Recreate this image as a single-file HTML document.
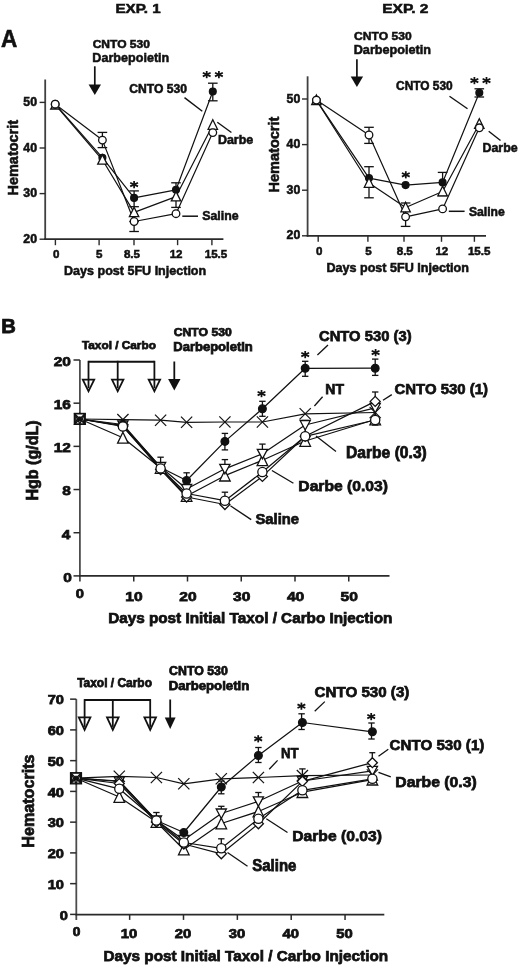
<!DOCTYPE html>
<html><head><meta charset="utf-8"><title>Figure</title>
<style>
html,body{margin:0;padding:0;background:#fff;}
body{width:520px;height:968px;overflow:hidden;font-family:"Liberation Sans",sans-serif;}
svg{display:block;font-weight:bold;filter:grayscale(1);}
</style></head><body>
<svg width="520" height="968" viewBox="0 0 520 968" font-family="Liberation Sans, sans-serif" font-weight="bold" fill="#111">
<rect width="520" height="968" fill="#fff"/>
<text x="115.5" y="13.12" font-size="13.37" textLength="45.23" lengthAdjust="spacingAndGlyphs" stroke="#111" stroke-width="0.55">EXP. 1</text>
<text x="1.11" y="47.02" font-size="23.4" textLength="16.31" lengthAdjust="spacingAndGlyphs" stroke="#111" stroke-width="0.55">A</text>
<text x="92.68" y="47.62" font-size="11.32" textLength="57.23" lengthAdjust="spacingAndGlyphs" stroke="#111" stroke-width="0.55">CNTO 530</text>
<text x="92.33" y="62.33" font-size="13.25" textLength="76.97" lengthAdjust="spacingAndGlyphs" stroke="#111" stroke-width="0.55">Darbepoietin</text>
<line x1="94.8" y1="66.3" x2="94.8" y2="85.5" stroke="#111" stroke-width="1.7"/>
<polygon points="88.6,84.5 101,84.5 94.8,95" fill="#111"/>
<line x1="45.2" y1="79.5" x2="45.2" y2="239.9" stroke="#404040" stroke-width="1.8"/>
<line x1="44.3" y1="239.2" x2="223.4" y2="239.2" stroke="#2a2a2a" stroke-width="1.7"/>
<line x1="39.6" y1="239.2" x2="45.2" y2="239.2" stroke="#2a2a2a" stroke-width="1.4"/>
<text x="23.36" y="242.82" font-size="12.29" textLength="13.67" lengthAdjust="spacingAndGlyphs" stroke="#111" stroke-width="0.55">20</text>
<line x1="39.6" y1="193.6" x2="45.2" y2="193.6" stroke="#2a2a2a" stroke-width="1.4"/>
<text x="23.36" y="197.22" font-size="12.29" textLength="13.67" lengthAdjust="spacingAndGlyphs" stroke="#111" stroke-width="0.55">30</text>
<line x1="39.6" y1="148" x2="45.2" y2="148" stroke="#2a2a2a" stroke-width="1.4"/>
<text x="23.36" y="151.62" font-size="12.29" textLength="13.67" lengthAdjust="spacingAndGlyphs" stroke="#111" stroke-width="0.55">40</text>
<line x1="39.6" y1="102.4" x2="45.2" y2="102.4" stroke="#2a2a2a" stroke-width="1.4"/>
<text x="23.36" y="106.03" font-size="12.29" textLength="13.67" lengthAdjust="spacingAndGlyphs" stroke="#111" stroke-width="0.55">50</text>
<line x1="55.4" y1="239.2" x2="55.4" y2="245.2" stroke="#2a2a2a" stroke-width="1.4"/>
<text x="53.09" y="258.32" font-size="11.57" textLength="6.44" lengthAdjust="spacingAndGlyphs" stroke="#111" stroke-width="0.55">0</text>
<line x1="99.1" y1="239.2" x2="99.1" y2="245.2" stroke="#2a2a2a" stroke-width="1.4"/>
<text x="95.97" y="258.32" font-size="11.57" textLength="6.44" lengthAdjust="spacingAndGlyphs" stroke="#111" stroke-width="0.55">5</text>
<line x1="134" y1="239.2" x2="134" y2="245.2" stroke="#2a2a2a" stroke-width="1.4"/>
<text x="123.93" y="258.32" font-size="11.57" textLength="16.09" lengthAdjust="spacingAndGlyphs" stroke="#111" stroke-width="0.55">8.5</text>
<line x1="177.6" y1="239.2" x2="177.6" y2="245.2" stroke="#2a2a2a" stroke-width="1.4"/>
<text x="169.63" y="258.32" font-size="11.57" textLength="12.87" lengthAdjust="spacingAndGlyphs" stroke="#111" stroke-width="0.55">12</text>
<line x1="211.9" y1="239.2" x2="211.9" y2="245.2" stroke="#2a2a2a" stroke-width="1.4"/>
<text x="204.74" y="258.32" font-size="11.57" textLength="22.52" lengthAdjust="spacingAndGlyphs" stroke="#111" stroke-width="0.55">15.5</text>
<text x="64.04" y="275.33" font-size="13" textLength="142.17" lengthAdjust="spacingAndGlyphs" stroke="#111" stroke-width="0.55">Days post 5FU Injection</text>
<text transform="translate(17.53 194.9) rotate(-90)" x="-0.69" y="0" font-size="14.21" textLength="75.7" lengthAdjust="spacingAndGlyphs" stroke="#111" stroke-width="0.55">Hematocrit</text>
<polyline points="55.2,104.2 102.4,140.1 134.1,221.5 176,213.7 212.8,132.6" fill="none" stroke="#111" stroke-width="1.2" stroke-linejoin="round"/>
<polyline points="55.2,104.7 102.4,159.8 134.1,212.4 176,196.6 212.8,125" fill="none" stroke="#111" stroke-width="1.2" stroke-linejoin="round"/>
<polyline points="55.2,104.2 102.4,157.7 134.1,197.9 176,189.8 212.8,91.5" fill="none" stroke="#111" stroke-width="1.2" stroke-linejoin="round"/>
<line x1="102.4" y1="132.4" x2="102.4" y2="147.6" stroke="#111" stroke-width="1.3"/>
<line x1="97.6" y1="132.4" x2="107.2" y2="132.4" stroke="#111" stroke-width="1.3"/>
<line x1="97.6" y1="147.6" x2="107.2" y2="147.6" stroke="#111" stroke-width="1.3"/>
<line x1="134.1" y1="190.9" x2="134.1" y2="206.7" stroke="#111" stroke-width="1.3"/>
<line x1="129.3" y1="190.9" x2="138.9" y2="190.9" stroke="#111" stroke-width="1.3"/>
<line x1="129.3" y1="206.7" x2="138.9" y2="206.7" stroke="#111" stroke-width="1.3"/>
<line x1="134.1" y1="221.5" x2="134.1" y2="231.5" stroke="#111" stroke-width="1.3"/>
<line x1="129.3" y1="221.5" x2="138.9" y2="221.5" stroke="#111" stroke-width="1.3"/>
<line x1="129.3" y1="231.5" x2="138.9" y2="231.5" stroke="#111" stroke-width="1.3"/>
<line x1="176" y1="182.8" x2="176" y2="207.4" stroke="#111" stroke-width="1.3"/>
<line x1="171.2" y1="182.8" x2="180.8" y2="182.8" stroke="#111" stroke-width="1.3"/>
<line x1="171.2" y1="207.4" x2="180.8" y2="207.4" stroke="#111" stroke-width="1.3"/>
<line x1="212.8" y1="83.2" x2="212.8" y2="100.8" stroke="#111" stroke-width="1.3"/>
<line x1="208" y1="83.2" x2="217.6" y2="83.2" stroke="#111" stroke-width="1.3"/>
<line x1="208" y1="100.8" x2="217.6" y2="100.8" stroke="#111" stroke-width="1.3"/>
<circle cx="102.4" cy="157.7" r="3.4" fill="#111" stroke="#111" stroke-width="1.3"/>
<circle cx="134.1" cy="197.9" r="3.4" fill="#111" stroke="#111" stroke-width="1.3"/>
<circle cx="176" cy="189.8" r="3.4" fill="#111" stroke="#111" stroke-width="1.3"/>
<circle cx="212.8" cy="91.5" r="3.4" fill="#111" stroke="#111" stroke-width="1.3"/>
<polygon points="55.2,101.5 59.7,109 50.7,109" fill="#fff" stroke="#111" stroke-width="1.3" stroke-linejoin="miter"/>
<polygon points="102.4,154.6 107.1,164.1 97.7,164.1" fill="#fff" stroke="#111" stroke-width="1.3" stroke-linejoin="miter"/>
<polygon points="134.1,207.2 138.8,216.7 129.4,216.7" fill="#fff" stroke="#111" stroke-width="1.3" stroke-linejoin="miter"/>
<polygon points="176,191.4 180.7,200.9 171.3,200.9" fill="#fff" stroke="#111" stroke-width="1.3" stroke-linejoin="miter"/>
<polygon points="212.8,119.8 217.5,129.3 208.1,129.3" fill="#fff" stroke="#111" stroke-width="1.3" stroke-linejoin="miter"/>
<circle cx="55.2" cy="104.2" r="3.8" fill="#fff" stroke="#111" stroke-width="1.3"/>
<circle cx="102.4" cy="140.1" r="3.8" fill="#fff" stroke="#111" stroke-width="1.3"/>
<circle cx="134.1" cy="221.5" r="3.8" fill="#fff" stroke="#111" stroke-width="1.3"/>
<circle cx="176" cy="213.7" r="3.8" fill="#fff" stroke="#111" stroke-width="1.3"/>
<circle cx="212.8" cy="132.6" r="3.8" fill="#fff" stroke="#111" stroke-width="1.3"/>
<circle cx="55.2" cy="104.2" r="3.8" fill="#fff" stroke="#111" stroke-width="1.3"/>
<line x1="134.1" y1="181" x2="134.1" y2="188.2" stroke="#111" stroke-width="1.75"/>
<line x1="130.2" y1="182.8" x2="138" y2="186.4" stroke="#111" stroke-width="1.75"/>
<line x1="138" y1="182.8" x2="130.2" y2="186.4" stroke="#111" stroke-width="1.75"/>
<line x1="206.7" y1="71" x2="206.7" y2="78.2" stroke="#111" stroke-width="1.75"/>
<line x1="202.8" y1="72.8" x2="210.6" y2="76.4" stroke="#111" stroke-width="1.75"/>
<line x1="210.6" y1="72.8" x2="202.8" y2="76.4" stroke="#111" stroke-width="1.75"/>
<line x1="218.9" y1="71" x2="218.9" y2="78.2" stroke="#111" stroke-width="1.75"/>
<line x1="215" y1="72.8" x2="222.8" y2="76.4" stroke="#111" stroke-width="1.75"/>
<line x1="222.8" y1="72.8" x2="215" y2="76.4" stroke="#111" stroke-width="1.75"/>
<text x="129.38" y="92.52" font-size="12.03" textLength="57.64" lengthAdjust="spacingAndGlyphs" stroke="#111" stroke-width="0.55">CNTO 530</text>
<line x1="184.5" y1="97.6" x2="202.3" y2="111.2" stroke="#111" stroke-width="1.4"/>
<line x1="217.3" y1="122.3" x2="231.4" y2="132.5" stroke="#111" stroke-width="1.4"/>
<text x="217.94" y="144.32" font-size="11.87" textLength="35.31" lengthAdjust="spacingAndGlyphs" stroke="#111" stroke-width="0.55">Darbe</text>
<line x1="182.3" y1="216.2" x2="198" y2="216.2" stroke="#111" stroke-width="1.5"/>
<text x="202.22" y="220.22" font-size="12.56" textLength="36.43" lengthAdjust="spacingAndGlyphs" stroke="#111" stroke-width="0.55">Saline</text>
<text x="382.18" y="13.22" font-size="13.37" textLength="46.34" lengthAdjust="spacingAndGlyphs" stroke="#111" stroke-width="0.55">EXP. 2</text>
<text x="354.08" y="39.93" font-size="11.75" textLength="57.54" lengthAdjust="spacingAndGlyphs" stroke="#111" stroke-width="0.55">CNTO 530</text>
<text x="353.73" y="54.33" font-size="12.56" textLength="77.28" lengthAdjust="spacingAndGlyphs" stroke="#111" stroke-width="0.55">Darbepoietin</text>
<line x1="356.9" y1="59.3" x2="356.9" y2="77.5" stroke="#111" stroke-width="1.7"/>
<polygon points="350.7,76.5 363.1,76.5 356.9,87" fill="#111"/>
<line x1="307.6" y1="76.3" x2="307.6" y2="236.5" stroke="#404040" stroke-width="1.8"/>
<line x1="306.7" y1="235.8" x2="486" y2="235.8" stroke="#2a2a2a" stroke-width="1.7"/>
<line x1="302" y1="235.8" x2="307.6" y2="235.8" stroke="#2a2a2a" stroke-width="1.4"/>
<text x="286.56" y="239.43" font-size="12.29" textLength="13.67" lengthAdjust="spacingAndGlyphs" stroke="#111" stroke-width="0.55">20</text>
<line x1="302" y1="190.2" x2="307.6" y2="190.2" stroke="#2a2a2a" stroke-width="1.4"/>
<text x="286.56" y="193.83" font-size="12.29" textLength="13.67" lengthAdjust="spacingAndGlyphs" stroke="#111" stroke-width="0.55">30</text>
<line x1="302" y1="144.6" x2="307.6" y2="144.6" stroke="#2a2a2a" stroke-width="1.4"/>
<text x="286.56" y="148.23" font-size="12.29" textLength="13.67" lengthAdjust="spacingAndGlyphs" stroke="#111" stroke-width="0.55">40</text>
<line x1="302" y1="99" x2="307.6" y2="99" stroke="#2a2a2a" stroke-width="1.4"/>
<text x="286.56" y="102.63" font-size="12.29" textLength="13.67" lengthAdjust="spacingAndGlyphs" stroke="#111" stroke-width="0.55">50</text>
<line x1="318.2" y1="235.8" x2="318.2" y2="241.8" stroke="#2a2a2a" stroke-width="1.4"/>
<text x="315.89" y="254.93" font-size="11.57" textLength="6.44" lengthAdjust="spacingAndGlyphs" stroke="#111" stroke-width="0.55">0</text>
<line x1="367.9" y1="235.8" x2="367.9" y2="241.8" stroke="#2a2a2a" stroke-width="1.4"/>
<text x="365.17" y="254.93" font-size="11.57" textLength="6.44" lengthAdjust="spacingAndGlyphs" stroke="#111" stroke-width="0.55">5</text>
<line x1="404" y1="235.8" x2="404" y2="241.8" stroke="#2a2a2a" stroke-width="1.4"/>
<text x="396.73" y="254.93" font-size="11.57" textLength="16.09" lengthAdjust="spacingAndGlyphs" stroke="#111" stroke-width="0.55">8.5</text>
<line x1="441.5" y1="235.8" x2="441.5" y2="241.8" stroke="#2a2a2a" stroke-width="1.4"/>
<text x="435.43" y="254.93" font-size="11.57" textLength="12.87" lengthAdjust="spacingAndGlyphs" stroke="#111" stroke-width="0.55">12</text>
<line x1="474.4" y1="235.8" x2="474.4" y2="241.8" stroke="#2a2a2a" stroke-width="1.4"/>
<text x="467.94" y="254.93" font-size="11.57" textLength="22.52" lengthAdjust="spacingAndGlyphs" stroke="#111" stroke-width="0.55">15.5</text>
<text x="326.43" y="271.73" font-size="12.14" textLength="142.57" lengthAdjust="spacingAndGlyphs" stroke="#111" stroke-width="0.55">Days post 5FU Injection</text>
<text transform="translate(278.73 191.9) rotate(-90)" x="-0.7" y="0" font-size="13.94" textLength="76" lengthAdjust="spacingAndGlyphs" stroke="#111" stroke-width="0.55">Hematocrit</text>
<polyline points="316.4,100.1 369,135 405.6,216.8 442.6,208.9 479.3,127.8" fill="none" stroke="#111" stroke-width="1.2" stroke-linejoin="round"/>
<polyline points="316.4,100.2 369,183 405.6,207.5 442.6,191.5 479.3,124" fill="none" stroke="#111" stroke-width="1.2" stroke-linejoin="round"/>
<polyline points="316.4,100.1 369,178.1 405.6,185.1 442.6,182.4 479.3,92.8" fill="none" stroke="#111" stroke-width="1.2" stroke-linejoin="round"/>
<line x1="369" y1="127.3" x2="369" y2="143.4" stroke="#111" stroke-width="1.3"/>
<line x1="364.2" y1="127.3" x2="373.8" y2="127.3" stroke="#111" stroke-width="1.3"/>
<line x1="364.2" y1="143.4" x2="373.8" y2="143.4" stroke="#111" stroke-width="1.3"/>
<line x1="369" y1="166.7" x2="369" y2="197.8" stroke="#111" stroke-width="1.3"/>
<line x1="364.2" y1="166.7" x2="373.8" y2="166.7" stroke="#111" stroke-width="1.3"/>
<line x1="364.2" y1="197.8" x2="373.8" y2="197.8" stroke="#111" stroke-width="1.3"/>
<line x1="405.6" y1="203" x2="405.6" y2="226.4" stroke="#111" stroke-width="1.3"/>
<line x1="400.8" y1="203" x2="410.4" y2="203" stroke="#111" stroke-width="1.3"/>
<line x1="400.8" y1="226.4" x2="410.4" y2="226.4" stroke="#111" stroke-width="1.3"/>
<line x1="442.6" y1="172.4" x2="442.6" y2="195.7" stroke="#111" stroke-width="1.3"/>
<line x1="437.8" y1="172.4" x2="447.4" y2="172.4" stroke="#111" stroke-width="1.3"/>
<line x1="437.8" y1="195.7" x2="447.4" y2="195.7" stroke="#111" stroke-width="1.3"/>
<line x1="479.3" y1="88.8" x2="479.3" y2="97" stroke="#111" stroke-width="1.3"/>
<line x1="474.5" y1="88.8" x2="484.1" y2="88.8" stroke="#111" stroke-width="1.3"/>
<line x1="474.5" y1="97" x2="484.1" y2="97" stroke="#111" stroke-width="1.3"/>
<circle cx="369" cy="178.1" r="3.4" fill="#111" stroke="#111" stroke-width="1.3"/>
<circle cx="405.6" cy="185.1" r="3.4" fill="#111" stroke="#111" stroke-width="1.3"/>
<circle cx="442.6" cy="182.4" r="3.4" fill="#111" stroke="#111" stroke-width="1.3"/>
<circle cx="479.3" cy="92.8" r="3.4" fill="#111" stroke="#111" stroke-width="1.3"/>
<polygon points="316.4,95 321.1,104.5 311.7,104.5" fill="#fff" stroke="#111" stroke-width="1.3" stroke-linejoin="miter"/>
<polygon points="369,177.8 373.7,187.3 364.3,187.3" fill="#fff" stroke="#111" stroke-width="1.3" stroke-linejoin="miter"/>
<polygon points="405.6,202.3 410.3,211.8 400.9,211.8" fill="#fff" stroke="#111" stroke-width="1.3" stroke-linejoin="miter"/>
<polygon points="442.6,186.3 447.3,195.8 437.9,195.8" fill="#fff" stroke="#111" stroke-width="1.3" stroke-linejoin="miter"/>
<polygon points="479.3,118.8 484,128.3 474.6,128.3" fill="#fff" stroke="#111" stroke-width="1.3" stroke-linejoin="miter"/>
<circle cx="316.4" cy="100.1" r="3.8" fill="#fff" stroke="#111" stroke-width="1.3"/>
<circle cx="369" cy="135" r="3.8" fill="#fff" stroke="#111" stroke-width="1.3"/>
<circle cx="405.6" cy="216.8" r="3.8" fill="#fff" stroke="#111" stroke-width="1.3"/>
<circle cx="442.6" cy="208.9" r="3.8" fill="#fff" stroke="#111" stroke-width="1.3"/>
<circle cx="479.3" cy="127.8" r="3.8" fill="#fff" stroke="#111" stroke-width="1.3"/>
<circle cx="316.4" cy="100.1" r="3.8" fill="#fff" stroke="#111" stroke-width="1.3"/>
<line x1="405.8" y1="171.2" x2="405.8" y2="178.4" stroke="#111" stroke-width="1.75"/>
<line x1="401.9" y1="173" x2="409.7" y2="176.6" stroke="#111" stroke-width="1.75"/>
<line x1="409.7" y1="173" x2="401.9" y2="176.6" stroke="#111" stroke-width="1.75"/>
<line x1="474.4" y1="77" x2="474.4" y2="84.2" stroke="#111" stroke-width="1.75"/>
<line x1="470.5" y1="78.8" x2="478.3" y2="82.4" stroke="#111" stroke-width="1.75"/>
<line x1="478.3" y1="78.8" x2="470.5" y2="82.4" stroke="#111" stroke-width="1.75"/>
<line x1="486.5" y1="77" x2="486.5" y2="84.2" stroke="#111" stroke-width="1.75"/>
<line x1="482.6" y1="78.8" x2="490.4" y2="82.4" stroke="#111" stroke-width="1.75"/>
<line x1="490.4" y1="78.8" x2="482.6" y2="82.4" stroke="#111" stroke-width="1.75"/>
<text x="396.09" y="89.52" font-size="11.89" textLength="56.62" lengthAdjust="spacingAndGlyphs" stroke="#111" stroke-width="0.55">CNTO 530</text>
<line x1="449.5" y1="96.2" x2="467.5" y2="108.8" stroke="#111" stroke-width="1.4"/>
<line x1="488.7" y1="131.3" x2="500.5" y2="140.5" stroke="#111" stroke-width="1.4"/>
<text x="482.44" y="151.72" font-size="12.01" textLength="35.21" lengthAdjust="spacingAndGlyphs" stroke="#111" stroke-width="0.55">Darbe</text>
<line x1="448.8" y1="211.3" x2="464.6" y2="211.3" stroke="#111" stroke-width="1.5"/>
<text x="468.92" y="215.53" font-size="12.14" textLength="35.82" lengthAdjust="spacingAndGlyphs" stroke="#111" stroke-width="0.55">Saline</text>
<text x="1.22" y="333.32" font-size="19.62" textLength="14.62" lengthAdjust="spacingAndGlyphs" stroke="#111" stroke-width="0.75">B</text>
<line x1="79.9" y1="360" x2="79.9" y2="581.5" stroke="#4d4d4d" stroke-width="1.8"/>
<line x1="79" y1="575.9" x2="389.5" y2="575.9" stroke="#2a2a2a" stroke-width="1.7"/>
<line x1="73.5" y1="575.9" x2="79.9" y2="575.9" stroke="#2a2a2a" stroke-width="1.5"/>
<text x="63.27" y="581.73" font-size="13.43" textLength="8.59" lengthAdjust="spacingAndGlyphs" stroke="#111" stroke-width="0.75">0</text>
<line x1="73.5" y1="532.72" x2="79.9" y2="532.72" stroke="#2a2a2a" stroke-width="1.5"/>
<text x="61.82" y="538.55" font-size="13.43" textLength="8.59" lengthAdjust="spacingAndGlyphs" stroke="#111" stroke-width="0.75">4</text>
<line x1="73.5" y1="489.54" x2="79.9" y2="489.54" stroke="#2a2a2a" stroke-width="1.5"/>
<text x="62.21" y="495.36" font-size="13.43" textLength="8.59" lengthAdjust="spacingAndGlyphs" stroke="#111" stroke-width="0.75">8</text>
<line x1="73.5" y1="446.36" x2="79.9" y2="446.36" stroke="#2a2a2a" stroke-width="1.5"/>
<text x="53.77" y="452.19" font-size="13.43" textLength="17.18" lengthAdjust="spacingAndGlyphs" stroke="#111" stroke-width="0.75">12</text>
<line x1="73.5" y1="403.18" x2="79.9" y2="403.18" stroke="#2a2a2a" stroke-width="1.5"/>
<text x="53.71" y="409" font-size="13.43" textLength="17.18" lengthAdjust="spacingAndGlyphs" stroke="#111" stroke-width="0.75">16</text>
<line x1="73.5" y1="360" x2="79.9" y2="360" stroke="#2a2a2a" stroke-width="1.5"/>
<text x="53.78" y="365.82" font-size="13.43" textLength="17.18" lengthAdjust="spacingAndGlyphs" stroke="#111" stroke-width="0.75">20</text>
<line x1="133.75" y1="575.9" x2="133.75" y2="581.5" stroke="#2a2a2a" stroke-width="1.5"/>
<line x1="187.5" y1="575.9" x2="187.5" y2="581.5" stroke="#2a2a2a" stroke-width="1.5"/>
<line x1="241.25" y1="575.9" x2="241.25" y2="581.5" stroke="#2a2a2a" stroke-width="1.5"/>
<line x1="295" y1="575.9" x2="295" y2="581.5" stroke="#2a2a2a" stroke-width="1.5"/>
<line x1="348.75" y1="575.9" x2="348.75" y2="581.5" stroke="#2a2a2a" stroke-width="1.5"/>
<text x="75.82" y="598.12" font-size="13.14" textLength="8.19" lengthAdjust="spacingAndGlyphs" stroke="#111" stroke-width="0.75">0</text>
<text x="125.3" y="600.83" font-size="13.57" textLength="17.36" lengthAdjust="spacingAndGlyphs" stroke="#111" stroke-width="0.75">10</text>
<text x="179.27" y="600.83" font-size="13.57" textLength="17.36" lengthAdjust="spacingAndGlyphs" stroke="#111" stroke-width="0.75">20</text>
<text x="233.11" y="600.83" font-size="13.57" textLength="17.36" lengthAdjust="spacingAndGlyphs" stroke="#111" stroke-width="0.75">30</text>
<text x="286.92" y="600.83" font-size="13.57" textLength="17.36" lengthAdjust="spacingAndGlyphs" stroke="#111" stroke-width="0.75">40</text>
<text x="340.55" y="600.83" font-size="13.57" textLength="17.36" lengthAdjust="spacingAndGlyphs" stroke="#111" stroke-width="0.75">50</text>
<text x="108.16" y="622.52" font-size="15.12" textLength="284.21" lengthAdjust="spacingAndGlyphs" stroke="#111" stroke-width="0.75">Days post Initial Taxol / Carbo Injection</text>
<text transform="translate(38.23 499.9) rotate(-90)" x="-0.7" y="0" font-size="15.99" textLength="80.22" lengthAdjust="spacingAndGlyphs" stroke="#111" stroke-width="0.75">Hgb (g/dL)</text>
<text x="81.94" y="348.93" font-size="11.77" textLength="73.94" lengthAdjust="spacingAndGlyphs" stroke="#111" stroke-width="0.75">Taxol / Carbo</text>
<text x="173.68" y="335.52" font-size="11.34" textLength="58.05" lengthAdjust="spacingAndGlyphs" stroke="#111" stroke-width="0.75">CNTO 530</text>
<text x="173.3" y="351.43" font-size="11.92" textLength="79.53" lengthAdjust="spacingAndGlyphs" stroke="#111" stroke-width="0.75">Darbepoietin</text>
<line x1="88.5" y1="361.7" x2="154.4" y2="361.7" stroke="#111" stroke-width="1.9"/>
<line x1="88.5" y1="360.8" x2="88.5" y2="388.3" stroke="#111" stroke-width="1.8"/>
<polygon points="82.8,379.7 94.2,379.7 88.5,391.3" fill="none" stroke="#111" stroke-width="1.8" stroke-linejoin="miter"/>
<line x1="117.7" y1="360.8" x2="117.7" y2="388.3" stroke="#111" stroke-width="1.8"/>
<polygon points="112,379.7 123.4,379.7 117.7,391.3" fill="none" stroke="#111" stroke-width="1.8" stroke-linejoin="miter"/>
<line x1="154.4" y1="360.8" x2="154.4" y2="388.3" stroke="#111" stroke-width="1.8"/>
<polygon points="148.7,379.7 160.1,379.7 154.4,391.3" fill="none" stroke="#111" stroke-width="1.8" stroke-linejoin="miter"/>
<line x1="174.3" y1="361.5" x2="174.3" y2="379.9" stroke="#111" stroke-width="1.8"/>
<polygon points="168.1,378.9 180.5,378.9 174.3,390.4" fill="#111"/>
<polyline points="79.9,419 122.9,419.6 160.6,420.2 186.6,422.3 224.9,422 262.4,422 305.2,413.8 375.2,412.5" fill="none" stroke="#111" stroke-width="1.2" stroke-linejoin="round"/>
<polyline points="79.9,419 122.9,426 160.6,469.5 186.6,497 224.9,504.5 262.4,476.4 305.2,436.3 375.2,401.4" fill="none" stroke="#111" stroke-width="1.25" stroke-linejoin="round"/>
<polyline points="79.9,419 122.9,425.5 160.6,467 186.6,489 224.9,468.8 262.4,453.8 305.2,425 375.2,407.9" fill="none" stroke="#111" stroke-width="1.25" stroke-linejoin="round"/>
<polyline points="79.9,419 122.9,437.8 160.6,468 186.6,496 224.9,475.7 262.4,460.3 305.2,441 375.2,419.5" fill="none" stroke="#111" stroke-width="1.25" stroke-linejoin="round"/>
<polyline points="79.9,419 122.9,426.5 160.6,468.4 186.6,493.5 224.9,500.7 262.4,472 305.2,436.3 375.2,420" fill="none" stroke="#111" stroke-width="1.25" stroke-linejoin="round"/>
<polyline points="79.9,419 122.9,424.5 160.6,467.5 186.6,480.5 224.9,441.4 262.4,408.8 305.2,368.3 375.2,368.2" fill="none" stroke="#111" stroke-width="1.25" stroke-linejoin="round"/>
<line x1="160.6" y1="457.2" x2="160.6" y2="468.4" stroke="#111" stroke-width="1.3"/>
<line x1="157.4" y1="457.2" x2="163.8" y2="457.2" stroke="#111" stroke-width="1.3"/>
<line x1="157.4" y1="468.4" x2="163.8" y2="468.4" stroke="#111" stroke-width="1.3"/>
<line x1="186.6" y1="472.8" x2="186.6" y2="480.5" stroke="#111" stroke-width="1.3"/>
<line x1="183.4" y1="472.8" x2="189.8" y2="472.8" stroke="#111" stroke-width="1.3"/>
<line x1="183.4" y1="480.5" x2="189.8" y2="480.5" stroke="#111" stroke-width="1.3"/>
<line x1="224.9" y1="433.4" x2="224.9" y2="449.9" stroke="#111" stroke-width="1.3"/>
<line x1="221.7" y1="433.4" x2="228.1" y2="433.4" stroke="#111" stroke-width="1.3"/>
<line x1="221.7" y1="449.9" x2="228.1" y2="449.9" stroke="#111" stroke-width="1.3"/>
<line x1="224.9" y1="459.6" x2="224.9" y2="466" stroke="#111" stroke-width="1.3"/>
<line x1="221.7" y1="459.6" x2="228.1" y2="459.6" stroke="#111" stroke-width="1.3"/>
<line x1="221.7" y1="466" x2="228.1" y2="466" stroke="#111" stroke-width="1.3"/>
<line x1="224.9" y1="492.2" x2="224.9" y2="500" stroke="#111" stroke-width="1.3"/>
<line x1="221.7" y1="492.2" x2="228.1" y2="492.2" stroke="#111" stroke-width="1.3"/>
<line x1="221.7" y1="500" x2="228.1" y2="500" stroke="#111" stroke-width="1.3"/>
<line x1="262.4" y1="401.3" x2="262.4" y2="416.3" stroke="#111" stroke-width="1.3"/>
<line x1="259.2" y1="401.3" x2="265.6" y2="401.3" stroke="#111" stroke-width="1.3"/>
<line x1="259.2" y1="416.3" x2="265.6" y2="416.3" stroke="#111" stroke-width="1.3"/>
<line x1="262.4" y1="444.1" x2="262.4" y2="452.5" stroke="#111" stroke-width="1.3"/>
<line x1="259.2" y1="444.1" x2="265.6" y2="444.1" stroke="#111" stroke-width="1.3"/>
<line x1="259.2" y1="452.5" x2="265.6" y2="452.5" stroke="#111" stroke-width="1.3"/>
<line x1="305.2" y1="361.3" x2="305.2" y2="376.3" stroke="#111" stroke-width="1.3"/>
<line x1="302" y1="361.3" x2="308.4" y2="361.3" stroke="#111" stroke-width="1.3"/>
<line x1="302" y1="376.3" x2="308.4" y2="376.3" stroke="#111" stroke-width="1.3"/>
<line x1="305.2" y1="420.5" x2="305.2" y2="441" stroke="#111" stroke-width="1.3"/>
<line x1="302" y1="420.5" x2="308.4" y2="420.5" stroke="#111" stroke-width="1.3"/>
<line x1="302" y1="441" x2="308.4" y2="441" stroke="#111" stroke-width="1.3"/>
<line x1="375.2" y1="359.1" x2="375.2" y2="375.4" stroke="#111" stroke-width="1.3"/>
<line x1="372" y1="359.1" x2="378.4" y2="359.1" stroke="#111" stroke-width="1.3"/>
<line x1="372" y1="375.4" x2="378.4" y2="375.4" stroke="#111" stroke-width="1.3"/>
<line x1="375.2" y1="392" x2="375.2" y2="425" stroke="#111" stroke-width="1.3"/>
<line x1="372" y1="392" x2="378.4" y2="392" stroke="#111" stroke-width="1.3"/>
<line x1="372" y1="425" x2="378.4" y2="425" stroke="#111" stroke-width="1.3"/>
<circle cx="122.9" cy="424.5" r="3.85" fill="#111" stroke="#111" stroke-width="1.3"/>
<circle cx="160.6" cy="467.5" r="3.85" fill="#111" stroke="#111" stroke-width="1.3"/>
<line x1="369.6" y1="406.9" x2="380.8" y2="418.1" stroke="#111" stroke-width="1.2"/>
<line x1="369.6" y1="418.1" x2="380.8" y2="406.9" stroke="#111" stroke-width="1.2"/>
<polygon points="79.9,413.5 85.2,424.3 74.6,424.3" fill="#fff" stroke="#111" stroke-width="1.3" stroke-linejoin="miter"/>
<polygon points="122.9,432.3 128.2,443.1 117.6,443.1" fill="#fff" stroke="#111" stroke-width="1.3" stroke-linejoin="miter"/>
<polygon points="160.6,462.5 165.9,473.3 155.3,473.3" fill="#fff" stroke="#111" stroke-width="1.3" stroke-linejoin="miter"/>
<polygon points="186.6,490.5 191.9,501.3 181.3,501.3" fill="#fff" stroke="#111" stroke-width="1.3" stroke-linejoin="miter"/>
<polygon points="224.9,470.2 230.2,481 219.6,481" fill="#fff" stroke="#111" stroke-width="1.3" stroke-linejoin="miter"/>
<polygon points="262.4,454.8 267.7,465.6 257.1,465.6" fill="#fff" stroke="#111" stroke-width="1.3" stroke-linejoin="miter"/>
<polygon points="305.2,435.5 310.5,446.3 299.9,446.3" fill="#fff" stroke="#111" stroke-width="1.3" stroke-linejoin="miter"/>
<polygon points="375.2,414 380.5,424.8 369.9,424.8" fill="#fff" stroke="#111" stroke-width="1.3" stroke-linejoin="miter"/>
<polygon points="79.9,424 85,414.5 74.8,414.5" fill="#fff" stroke="#111" stroke-width="1.3" stroke-linejoin="miter"/>
<polygon points="122.9,430.5 128,421 117.8,421" fill="#fff" stroke="#111" stroke-width="1.3" stroke-linejoin="miter"/>
<polygon points="160.6,472 165.7,462.5 155.5,462.5" fill="#fff" stroke="#111" stroke-width="1.3" stroke-linejoin="miter"/>
<polygon points="186.6,494 191.7,484.5 181.5,484.5" fill="#fff" stroke="#111" stroke-width="1.3" stroke-linejoin="miter"/>
<polygon points="224.9,473.8 230,464.3 219.8,464.3" fill="#fff" stroke="#111" stroke-width="1.3" stroke-linejoin="miter"/>
<polygon points="262.4,458.8 267.5,449.3 257.3,449.3" fill="#fff" stroke="#111" stroke-width="1.3" stroke-linejoin="miter"/>
<polygon points="305.2,430 310.3,420.5 300.1,420.5" fill="#fff" stroke="#111" stroke-width="1.3" stroke-linejoin="miter"/>
<polygon points="375.2,412.9 380.3,403.4 370.1,403.4" fill="#fff" stroke="#111" stroke-width="1.3" stroke-linejoin="miter"/>
<line x1="117.3" y1="414" x2="128.5" y2="425.2" stroke="#111" stroke-width="1.2"/>
<line x1="117.3" y1="425.2" x2="128.5" y2="414" stroke="#111" stroke-width="1.2"/>
<line x1="155" y1="414.6" x2="166.2" y2="425.8" stroke="#111" stroke-width="1.2"/>
<line x1="155" y1="425.8" x2="166.2" y2="414.6" stroke="#111" stroke-width="1.2"/>
<line x1="181" y1="416.7" x2="192.2" y2="427.9" stroke="#111" stroke-width="1.2"/>
<line x1="181" y1="427.9" x2="192.2" y2="416.7" stroke="#111" stroke-width="1.2"/>
<line x1="219.3" y1="416.4" x2="230.5" y2="427.6" stroke="#111" stroke-width="1.2"/>
<line x1="219.3" y1="427.6" x2="230.5" y2="416.4" stroke="#111" stroke-width="1.2"/>
<line x1="256.8" y1="416.4" x2="268" y2="427.6" stroke="#111" stroke-width="1.2"/>
<line x1="256.8" y1="427.6" x2="268" y2="416.4" stroke="#111" stroke-width="1.2"/>
<line x1="299.6" y1="408.2" x2="310.8" y2="419.4" stroke="#111" stroke-width="1.2"/>
<line x1="299.6" y1="419.4" x2="310.8" y2="408.2" stroke="#111" stroke-width="1.2"/>
<polygon points="79.9,414 84.9,419 79.9,424 74.9,419" fill="#fff" stroke="#111" stroke-width="1.3"/>
<polygon points="122.9,421 127.9,426 122.9,431 117.9,426" fill="#fff" stroke="#111" stroke-width="1.3"/>
<polygon points="160.6,464.5 165.6,469.5 160.6,474.5 155.6,469.5" fill="#fff" stroke="#111" stroke-width="1.3"/>
<polygon points="186.6,492 191.6,497 186.6,502 181.6,497" fill="#fff" stroke="#111" stroke-width="1.3"/>
<polygon points="224.9,499.5 229.9,504.5 224.9,509.5 219.9,504.5" fill="#fff" stroke="#111" stroke-width="1.3"/>
<polygon points="262.4,471.4 267.4,476.4 262.4,481.4 257.4,476.4" fill="#fff" stroke="#111" stroke-width="1.3"/>
<polygon points="305.2,431.3 310.2,436.3 305.2,441.3 300.2,436.3" fill="#fff" stroke="#111" stroke-width="1.3"/>
<polygon points="375.2,396.4 380.2,401.4 375.2,406.4 370.2,401.4" fill="#fff" stroke="#111" stroke-width="1.3"/>
<circle cx="79.9" cy="419" r="4.6" fill="#fff" stroke="#111" stroke-width="1.3"/>
<circle cx="122.9" cy="426.5" r="4.6" fill="#fff" stroke="#111" stroke-width="1.3"/>
<circle cx="160.6" cy="468.4" r="4.6" fill="#fff" stroke="#111" stroke-width="1.3"/>
<circle cx="186.6" cy="493.5" r="4.6" fill="#fff" stroke="#111" stroke-width="1.3"/>
<circle cx="224.9" cy="500.7" r="4.6" fill="#fff" stroke="#111" stroke-width="1.3"/>
<circle cx="262.4" cy="472" r="4.6" fill="#fff" stroke="#111" stroke-width="1.3"/>
<circle cx="305.2" cy="436.3" r="4.6" fill="#fff" stroke="#111" stroke-width="1.3"/>
<circle cx="375.2" cy="420" r="4.6" fill="#fff" stroke="#111" stroke-width="1.3"/>
<circle cx="186.6" cy="480.5" r="3.85" fill="#111" stroke="#111" stroke-width="1.3"/>
<circle cx="224.9" cy="441.4" r="3.85" fill="#111" stroke="#111" stroke-width="1.3"/>
<circle cx="262.4" cy="408.8" r="3.85" fill="#111" stroke="#111" stroke-width="1.3"/>
<circle cx="305.2" cy="368.3" r="3.85" fill="#111" stroke="#111" stroke-width="1.3"/>
<circle cx="375.2" cy="368.2" r="3.85" fill="#111" stroke="#111" stroke-width="1.3"/>
<rect x="74.8" y="413.9" width="10" height="10" fill="#fff" stroke="#111" stroke-width="2.2"/>
<polygon points="79.8,413.9 84.8,423.9 74.8,423.9" fill="#fff" stroke="#111" stroke-width="1.3" stroke-linejoin="miter"/>
<polygon points="79.8,423.9 84.8,413.9 74.8,413.9" fill="#fff" stroke="#111" stroke-width="1.3" stroke-linejoin="miter"/>
<line x1="74.8" y1="413.9" x2="84.8" y2="423.9" stroke="#111" stroke-width="1.4"/>
<line x1="74.8" y1="423.9" x2="84.8" y2="413.9" stroke="#111" stroke-width="1.4"/>
<circle cx="79.8" cy="418.9" r="2.2" fill="#111" stroke="#111" stroke-width="0.8"/>
<line x1="261.5" y1="390" x2="261.5" y2="397.2" stroke="#111" stroke-width="1.75"/>
<line x1="257.6" y1="391.8" x2="265.4" y2="395.4" stroke="#111" stroke-width="1.75"/>
<line x1="265.4" y1="391.8" x2="257.6" y2="395.4" stroke="#111" stroke-width="1.75"/>
<line x1="305.2" y1="351" x2="305.2" y2="358.2" stroke="#111" stroke-width="1.75"/>
<line x1="301.3" y1="352.8" x2="309.1" y2="356.4" stroke="#111" stroke-width="1.75"/>
<line x1="309.1" y1="352.8" x2="301.3" y2="356.4" stroke="#111" stroke-width="1.75"/>
<line x1="375.6" y1="349" x2="375.6" y2="356.2" stroke="#111" stroke-width="1.75"/>
<line x1="371.7" y1="350.8" x2="379.5" y2="354.4" stroke="#111" stroke-width="1.75"/>
<line x1="379.5" y1="350.8" x2="371.7" y2="354.4" stroke="#111" stroke-width="1.75"/>
<text x="318.97" y="341.02" font-size="15.41" textLength="92.59" lengthAdjust="spacingAndGlyphs" stroke="#111" stroke-width="0.75">CNTO 530 (3)</text>
<line x1="317.4" y1="354.9" x2="328" y2="345" stroke="#111" stroke-width="1.3"/>
<text x="325.33" y="393.62" font-size="15.26" textLength="18.74" lengthAdjust="spacingAndGlyphs" stroke="#111" stroke-width="0.75">NT</text>
<line x1="314.4" y1="406" x2="322.6" y2="396.8" stroke="#111" stroke-width="1.3"/>
<text x="394.56" y="393.62" font-size="15.12" textLength="93.4" lengthAdjust="spacingAndGlyphs" stroke="#111" stroke-width="0.75">CNTO 530 (1)</text>
<line x1="383" y1="400.3" x2="391.8" y2="394.6" stroke="#111" stroke-width="1.3"/>
<text x="346.03" y="458.32" font-size="15.7" textLength="80.77" lengthAdjust="spacingAndGlyphs" stroke="#111" stroke-width="0.75">Darbe (0.3)</text>
<line x1="316" y1="436" x2="336" y2="451.5" stroke="#111" stroke-width="1.3"/>
<text x="298.33" y="491.23" font-size="15.41" textLength="89.68" lengthAdjust="spacingAndGlyphs" stroke="#111" stroke-width="0.75">Darbe (0.03)</text>
<line x1="271.9" y1="470.5" x2="293.4" y2="483.3" stroke="#111" stroke-width="1.3"/>
<text x="255.45" y="523.62" font-size="15.55" textLength="43.68" lengthAdjust="spacingAndGlyphs" stroke="#111" stroke-width="0.75">Saline</text>
<line x1="230.4" y1="505.8" x2="251.2" y2="519.6" stroke="#111" stroke-width="1.3"/>
<line x1="76.3" y1="699.1" x2="76.3" y2="920" stroke="#4d4d4d" stroke-width="1.8"/>
<line x1="75.4" y1="914.6" x2="384.3" y2="914.6" stroke="#2a2a2a" stroke-width="1.7"/>
<line x1="70.1" y1="914.4" x2="76.3" y2="914.4" stroke="#2a2a2a" stroke-width="1.5"/>
<text x="59.89" y="919.73" font-size="12.71" textLength="8.13" lengthAdjust="spacingAndGlyphs" stroke="#111" stroke-width="0.75">0</text>
<line x1="70.1" y1="883.65" x2="76.3" y2="883.65" stroke="#2a2a2a" stroke-width="1.5"/>
<text x="47.66" y="888.98" font-size="12.71" textLength="16.26" lengthAdjust="spacingAndGlyphs" stroke="#111" stroke-width="0.75">10</text>
<line x1="70.1" y1="852.9" x2="76.3" y2="852.9" stroke="#2a2a2a" stroke-width="1.5"/>
<text x="47.66" y="858.23" font-size="12.71" textLength="16.26" lengthAdjust="spacingAndGlyphs" stroke="#111" stroke-width="0.75">20</text>
<line x1="70.1" y1="822.15" x2="76.3" y2="822.15" stroke="#2a2a2a" stroke-width="1.5"/>
<text x="47.66" y="827.48" font-size="12.71" textLength="16.26" lengthAdjust="spacingAndGlyphs" stroke="#111" stroke-width="0.75">30</text>
<line x1="70.1" y1="791.4" x2="76.3" y2="791.4" stroke="#2a2a2a" stroke-width="1.5"/>
<text x="47.66" y="796.73" font-size="12.71" textLength="16.26" lengthAdjust="spacingAndGlyphs" stroke="#111" stroke-width="0.75">40</text>
<line x1="70.1" y1="760.65" x2="76.3" y2="760.65" stroke="#2a2a2a" stroke-width="1.5"/>
<text x="47.66" y="765.98" font-size="12.71" textLength="16.26" lengthAdjust="spacingAndGlyphs" stroke="#111" stroke-width="0.75">50</text>
<line x1="70.1" y1="729.9" x2="76.3" y2="729.9" stroke="#2a2a2a" stroke-width="1.5"/>
<text x="47.66" y="735.23" font-size="12.71" textLength="16.26" lengthAdjust="spacingAndGlyphs" stroke="#111" stroke-width="0.75">60</text>
<line x1="70.1" y1="699.15" x2="76.3" y2="699.15" stroke="#2a2a2a" stroke-width="1.5"/>
<text x="47.66" y="704.48" font-size="12.71" textLength="16.26" lengthAdjust="spacingAndGlyphs" stroke="#111" stroke-width="0.75">70</text>
<line x1="129.65" y1="914.6" x2="129.65" y2="919.9" stroke="#2a2a2a" stroke-width="1.5"/>
<line x1="183.5" y1="914.6" x2="183.5" y2="919.9" stroke="#2a2a2a" stroke-width="1.5"/>
<line x1="237.35" y1="914.6" x2="237.35" y2="919.9" stroke="#2a2a2a" stroke-width="1.5"/>
<line x1="291.2" y1="914.6" x2="291.2" y2="919.9" stroke="#2a2a2a" stroke-width="1.5"/>
<line x1="345.05" y1="914.6" x2="345.05" y2="919.9" stroke="#2a2a2a" stroke-width="1.5"/>
<text x="72.88" y="936.23" font-size="12.29" textLength="7.65" lengthAdjust="spacingAndGlyphs" stroke="#111" stroke-width="0.75">0</text>
<text x="120.66" y="938.23" font-size="12.86" textLength="16.45" lengthAdjust="spacingAndGlyphs" stroke="#111" stroke-width="0.75">10</text>
<text x="174.72" y="938.23" font-size="12.86" textLength="16.45" lengthAdjust="spacingAndGlyphs" stroke="#111" stroke-width="0.75">20</text>
<text x="228.66" y="938.23" font-size="12.86" textLength="16.45" lengthAdjust="spacingAndGlyphs" stroke="#111" stroke-width="0.75">30</text>
<text x="282.57" y="938.23" font-size="12.86" textLength="16.45" lengthAdjust="spacingAndGlyphs" stroke="#111" stroke-width="0.75">40</text>
<text x="336.3" y="938.23" font-size="12.86" textLength="16.45" lengthAdjust="spacingAndGlyphs" stroke="#111" stroke-width="0.75">50</text>
<text x="103.45" y="960.83" font-size="15.55" textLength="284.72" lengthAdjust="spacingAndGlyphs" stroke="#111" stroke-width="0.75">Days post Initial Taxol / Carbo Injection</text>
<text transform="translate(34.23 847) rotate(-90)" x="-0.7" y="0" font-size="17.15" textLength="93.19" lengthAdjust="spacingAndGlyphs" stroke="#111" stroke-width="0.75">Hematocrits</text>
<text x="77.14" y="687.42" font-size="12.21" textLength="74.84" lengthAdjust="spacingAndGlyphs" stroke="#111" stroke-width="0.75">Taxol / Carbo</text>
<text x="169.07" y="674.62" font-size="12.21" textLength="58.76" lengthAdjust="spacingAndGlyphs" stroke="#111" stroke-width="0.75">CNTO 530</text>
<text x="168.69" y="690.02" font-size="12.21" textLength="80.55" lengthAdjust="spacingAndGlyphs" stroke="#111" stroke-width="0.75">Darbepoietin</text>
<line x1="84.2" y1="700" x2="150.8" y2="700" stroke="#111" stroke-width="1.9"/>
<line x1="84.6" y1="699.2" x2="84.6" y2="726.9" stroke="#111" stroke-width="1.8"/>
<polygon points="78.8,717.4 90.4,717.4 84.6,729.9" fill="none" stroke="#111" stroke-width="1.8" stroke-linejoin="miter"/>
<line x1="112.8" y1="699.2" x2="112.8" y2="726.9" stroke="#111" stroke-width="1.8"/>
<polygon points="107,717.4 118.6,717.4 112.8,729.9" fill="none" stroke="#111" stroke-width="1.8" stroke-linejoin="miter"/>
<line x1="150.2" y1="699.2" x2="150.2" y2="726.9" stroke="#111" stroke-width="1.8"/>
<polygon points="144.4,717.4 156,717.4 150.2,729.9" fill="none" stroke="#111" stroke-width="1.8" stroke-linejoin="miter"/>
<line x1="170.2" y1="699.5" x2="170.2" y2="718.5" stroke="#111" stroke-width="1.8"/>
<polygon points="164.8,717.5 175.6,717.5 170.2,729.1" fill="#111"/>
<polyline points="76,778.2 119.3,776.3 156.4,777.5 183.8,783.8 221.3,778.8 258.4,777.5 302.4,775.6 372.4,775" fill="none" stroke="#111" stroke-width="1.2" stroke-linejoin="round"/>
<polyline points="76,778.2 119.3,783.5 156.4,822 183.8,844 221.3,853.8 258.4,823.8 302.4,781.4 372.4,762.7" fill="none" stroke="#111" stroke-width="1.25" stroke-linejoin="round"/>
<polyline points="76,778.2 119.3,781.5 156.4,820.5 183.8,840 221.3,813.5 258.4,801.3 302.4,781 372.4,770.8" fill="none" stroke="#111" stroke-width="1.25" stroke-linejoin="round"/>
<polyline points="76,778.2 119.3,797 156.4,822 183.8,849.5 221.3,823.5 258.4,811.5 302.4,792.2 372.4,779.7" fill="none" stroke="#111" stroke-width="1.25" stroke-linejoin="round"/>
<polyline points="76,778.2 119.3,788.8 156.4,820.5 183.8,842.5 221.3,848.3 258.4,818.8 302.4,790.3 372.4,778.8" fill="none" stroke="#111" stroke-width="1.25" stroke-linejoin="round"/>
<polyline points="76,778.2 119.3,781 156.4,820.5 183.8,832.5 221.3,787 258.4,755.5 302.4,722.5 372.4,731.8" fill="none" stroke="#111" stroke-width="1.25" stroke-linejoin="round"/>
<line x1="156.4" y1="812.5" x2="156.4" y2="820.5" stroke="#111" stroke-width="1.3"/>
<line x1="153.2" y1="812.5" x2="159.6" y2="812.5" stroke="#111" stroke-width="1.3"/>
<line x1="153.2" y1="820.5" x2="159.6" y2="820.5" stroke="#111" stroke-width="1.3"/>
<line x1="221.3" y1="781" x2="221.3" y2="793.8" stroke="#111" stroke-width="1.3"/>
<line x1="218.1" y1="781" x2="224.5" y2="781" stroke="#111" stroke-width="1.3"/>
<line x1="218.1" y1="793.8" x2="224.5" y2="793.8" stroke="#111" stroke-width="1.3"/>
<line x1="221.3" y1="806.3" x2="221.3" y2="813" stroke="#111" stroke-width="1.3"/>
<line x1="218.1" y1="806.3" x2="224.5" y2="806.3" stroke="#111" stroke-width="1.3"/>
<line x1="218.1" y1="813" x2="224.5" y2="813" stroke="#111" stroke-width="1.3"/>
<line x1="221.3" y1="838.8" x2="221.3" y2="848.3" stroke="#111" stroke-width="1.3"/>
<line x1="218.1" y1="838.8" x2="224.5" y2="838.8" stroke="#111" stroke-width="1.3"/>
<line x1="218.1" y1="848.3" x2="224.5" y2="848.3" stroke="#111" stroke-width="1.3"/>
<line x1="258.4" y1="747.5" x2="258.4" y2="762.5" stroke="#111" stroke-width="1.3"/>
<line x1="255.2" y1="747.5" x2="261.6" y2="747.5" stroke="#111" stroke-width="1.3"/>
<line x1="255.2" y1="762.5" x2="261.6" y2="762.5" stroke="#111" stroke-width="1.3"/>
<line x1="258.4" y1="792.5" x2="258.4" y2="801.3" stroke="#111" stroke-width="1.3"/>
<line x1="255.2" y1="792.5" x2="261.6" y2="792.5" stroke="#111" stroke-width="1.3"/>
<line x1="255.2" y1="801.3" x2="261.6" y2="801.3" stroke="#111" stroke-width="1.3"/>
<line x1="301.6" y1="713.8" x2="301.6" y2="729.5" stroke="#111" stroke-width="1.3"/>
<line x1="298.4" y1="713.8" x2="304.8" y2="713.8" stroke="#111" stroke-width="1.3"/>
<line x1="298.4" y1="729.5" x2="304.8" y2="729.5" stroke="#111" stroke-width="1.3"/>
<line x1="302.4" y1="768.9" x2="302.4" y2="776" stroke="#111" stroke-width="1.3"/>
<line x1="299.2" y1="768.9" x2="305.6" y2="768.9" stroke="#111" stroke-width="1.3"/>
<line x1="299.2" y1="776" x2="305.6" y2="776" stroke="#111" stroke-width="1.3"/>
<line x1="371.5" y1="723" x2="371.5" y2="739" stroke="#111" stroke-width="1.3"/>
<line x1="368.3" y1="723" x2="374.7" y2="723" stroke="#111" stroke-width="1.3"/>
<line x1="368.3" y1="739" x2="374.7" y2="739" stroke="#111" stroke-width="1.3"/>
<line x1="372.3" y1="752.7" x2="372.3" y2="762.7" stroke="#111" stroke-width="1.3"/>
<line x1="369.3" y1="752.7" x2="375.3" y2="752.7" stroke="#111" stroke-width="1.3"/>
<line x1="369.3" y1="762.7" x2="375.3" y2="762.7" stroke="#111" stroke-width="1.3"/>
<circle cx="119.3" cy="781" r="3.85" fill="#111" stroke="#111" stroke-width="1.3"/>
<circle cx="156.4" cy="820.5" r="3.85" fill="#111" stroke="#111" stroke-width="1.3"/>
<polygon points="76,772.7 81.3,783.5 70.7,783.5" fill="#fff" stroke="#111" stroke-width="1.3" stroke-linejoin="miter"/>
<polygon points="119.3,791.5 124.6,802.3 114,802.3" fill="#fff" stroke="#111" stroke-width="1.3" stroke-linejoin="miter"/>
<polygon points="156.4,816.5 161.7,827.3 151.1,827.3" fill="#fff" stroke="#111" stroke-width="1.3" stroke-linejoin="miter"/>
<polygon points="183.8,844 189.1,854.8 178.5,854.8" fill="#fff" stroke="#111" stroke-width="1.3" stroke-linejoin="miter"/>
<polygon points="221.3,818 226.6,828.8 216,828.8" fill="#fff" stroke="#111" stroke-width="1.3" stroke-linejoin="miter"/>
<polygon points="258.4,806 263.7,816.8 253.1,816.8" fill="#fff" stroke="#111" stroke-width="1.3" stroke-linejoin="miter"/>
<polygon points="302.4,786.7 307.7,797.5 297.1,797.5" fill="#fff" stroke="#111" stroke-width="1.3" stroke-linejoin="miter"/>
<polygon points="372.4,774.2 377.7,785 367.1,785" fill="#fff" stroke="#111" stroke-width="1.3" stroke-linejoin="miter"/>
<polygon points="76,783.2 81.1,773.7 70.9,773.7" fill="#fff" stroke="#111" stroke-width="1.3" stroke-linejoin="miter"/>
<polygon points="119.3,786.5 124.4,777 114.2,777" fill="#fff" stroke="#111" stroke-width="1.3" stroke-linejoin="miter"/>
<polygon points="156.4,825.5 161.5,816 151.3,816" fill="#fff" stroke="#111" stroke-width="1.3" stroke-linejoin="miter"/>
<polygon points="183.8,845 188.9,835.5 178.7,835.5" fill="#fff" stroke="#111" stroke-width="1.3" stroke-linejoin="miter"/>
<polygon points="221.3,818.5 226.4,809 216.2,809" fill="#fff" stroke="#111" stroke-width="1.3" stroke-linejoin="miter"/>
<polygon points="258.4,806.3 263.5,796.8 253.3,796.8" fill="#fff" stroke="#111" stroke-width="1.3" stroke-linejoin="miter"/>
<polygon points="302.4,786 307.5,776.5 297.3,776.5" fill="#fff" stroke="#111" stroke-width="1.3" stroke-linejoin="miter"/>
<polygon points="372.4,775.8 377.5,766.3 367.3,766.3" fill="#fff" stroke="#111" stroke-width="1.3" stroke-linejoin="miter"/>
<line x1="113.7" y1="770.7" x2="124.9" y2="781.9" stroke="#111" stroke-width="1.2"/>
<line x1="113.7" y1="781.9" x2="124.9" y2="770.7" stroke="#111" stroke-width="1.2"/>
<line x1="150.8" y1="771.9" x2="162" y2="783.1" stroke="#111" stroke-width="1.2"/>
<line x1="150.8" y1="783.1" x2="162" y2="771.9" stroke="#111" stroke-width="1.2"/>
<line x1="178.2" y1="778.2" x2="189.4" y2="789.4" stroke="#111" stroke-width="1.2"/>
<line x1="178.2" y1="789.4" x2="189.4" y2="778.2" stroke="#111" stroke-width="1.2"/>
<line x1="215.7" y1="773.2" x2="226.9" y2="784.4" stroke="#111" stroke-width="1.2"/>
<line x1="215.7" y1="784.4" x2="226.9" y2="773.2" stroke="#111" stroke-width="1.2"/>
<line x1="252.8" y1="771.9" x2="264" y2="783.1" stroke="#111" stroke-width="1.2"/>
<line x1="252.8" y1="783.1" x2="264" y2="771.9" stroke="#111" stroke-width="1.2"/>
<line x1="296.8" y1="770" x2="308" y2="781.2" stroke="#111" stroke-width="1.2"/>
<line x1="296.8" y1="781.2" x2="308" y2="770" stroke="#111" stroke-width="1.2"/>
<line x1="366.8" y1="769.4" x2="378" y2="780.6" stroke="#111" stroke-width="1.2"/>
<line x1="366.8" y1="780.6" x2="378" y2="769.4" stroke="#111" stroke-width="1.2"/>
<polygon points="76,773.2 81,778.2 76,783.2 71,778.2" fill="#fff" stroke="#111" stroke-width="1.3"/>
<polygon points="119.3,778.5 124.3,783.5 119.3,788.5 114.3,783.5" fill="#fff" stroke="#111" stroke-width="1.3"/>
<polygon points="156.4,817 161.4,822 156.4,827 151.4,822" fill="#fff" stroke="#111" stroke-width="1.3"/>
<polygon points="183.8,839 188.8,844 183.8,849 178.8,844" fill="#fff" stroke="#111" stroke-width="1.3"/>
<polygon points="221.3,848.8 226.3,853.8 221.3,858.8 216.3,853.8" fill="#fff" stroke="#111" stroke-width="1.3"/>
<polygon points="258.4,818.8 263.4,823.8 258.4,828.8 253.4,823.8" fill="#fff" stroke="#111" stroke-width="1.3"/>
<polygon points="302.4,776.4 307.4,781.4 302.4,786.4 297.4,781.4" fill="#fff" stroke="#111" stroke-width="1.3"/>
<polygon points="372.4,757.7 377.4,762.7 372.4,767.7 367.4,762.7" fill="#fff" stroke="#111" stroke-width="1.3"/>
<circle cx="76" cy="778.2" r="4.6" fill="#fff" stroke="#111" stroke-width="1.3"/>
<circle cx="119.3" cy="788.8" r="4.6" fill="#fff" stroke="#111" stroke-width="1.3"/>
<circle cx="156.4" cy="820.5" r="4.6" fill="#fff" stroke="#111" stroke-width="1.3"/>
<circle cx="183.8" cy="842.5" r="4.6" fill="#fff" stroke="#111" stroke-width="1.3"/>
<circle cx="221.3" cy="848.3" r="4.6" fill="#fff" stroke="#111" stroke-width="1.3"/>
<circle cx="258.4" cy="818.8" r="4.6" fill="#fff" stroke="#111" stroke-width="1.3"/>
<circle cx="302.4" cy="790.3" r="4.6" fill="#fff" stroke="#111" stroke-width="1.3"/>
<circle cx="372.4" cy="778.8" r="4.6" fill="#fff" stroke="#111" stroke-width="1.3"/>
<circle cx="183.8" cy="832.5" r="3.85" fill="#111" stroke="#111" stroke-width="1.3"/>
<circle cx="221.3" cy="787" r="3.85" fill="#111" stroke="#111" stroke-width="1.3"/>
<circle cx="258.4" cy="755.5" r="3.85" fill="#111" stroke="#111" stroke-width="1.3"/>
<circle cx="302.4" cy="722.5" r="3.85" fill="#111" stroke="#111" stroke-width="1.3"/>
<circle cx="372.4" cy="731.8" r="3.85" fill="#111" stroke="#111" stroke-width="1.3"/>
<rect x="71" y="773.2" width="10" height="10" fill="#fff" stroke="#111" stroke-width="2.2"/>
<polygon points="76,773.2 81,783.2 71,783.2" fill="#fff" stroke="#111" stroke-width="1.3" stroke-linejoin="miter"/>
<polygon points="76,783.2 81,773.2 71,773.2" fill="#fff" stroke="#111" stroke-width="1.3" stroke-linejoin="miter"/>
<line x1="71" y1="773.2" x2="81" y2="783.2" stroke="#111" stroke-width="1.4"/>
<line x1="71" y1="783.2" x2="81" y2="773.2" stroke="#111" stroke-width="1.4"/>
<circle cx="76" cy="778.2" r="2.2" fill="#111" stroke="#111" stroke-width="0.8"/>
<line x1="258.2" y1="735.2" x2="258.2" y2="742.4" stroke="#111" stroke-width="1.75"/>
<line x1="254.3" y1="737" x2="262.1" y2="740.6" stroke="#111" stroke-width="1.75"/>
<line x1="262.1" y1="737" x2="254.3" y2="740.6" stroke="#111" stroke-width="1.75"/>
<line x1="301.4" y1="702.6" x2="301.4" y2="709.8" stroke="#111" stroke-width="1.75"/>
<line x1="297.5" y1="704.4" x2="305.3" y2="708" stroke="#111" stroke-width="1.75"/>
<line x1="305.3" y1="704.4" x2="297.5" y2="708" stroke="#111" stroke-width="1.75"/>
<line x1="371.2" y1="713" x2="371.2" y2="720.2" stroke="#111" stroke-width="1.75"/>
<line x1="367.3" y1="714.8" x2="375.1" y2="718.4" stroke="#111" stroke-width="1.75"/>
<line x1="375.1" y1="714.8" x2="367.3" y2="718.4" stroke="#111" stroke-width="1.75"/>
<text x="314.56" y="697.02" font-size="15.12" textLength="94.82" lengthAdjust="spacingAndGlyphs" stroke="#111" stroke-width="0.75">CNTO 530 (3)</text>
<line x1="314.7" y1="711.2" x2="324.8" y2="701.6" stroke="#111" stroke-width="1.3"/>
<text x="280.99" y="757.52" font-size="14.97" textLength="17.57" lengthAdjust="spacingAndGlyphs" stroke="#111" stroke-width="0.75">NT</text>
<line x1="269.2" y1="769.3" x2="277.6" y2="760.4" stroke="#111" stroke-width="1.3"/>
<text x="389.56" y="750.33" font-size="15.41" textLength="94.82" lengthAdjust="spacingAndGlyphs" stroke="#111" stroke-width="0.75">CNTO 530 (1)</text>
<line x1="378.5" y1="756.3" x2="388.3" y2="749.2" stroke="#111" stroke-width="1.3"/>
<text x="395.32" y="787.33" font-size="15.55" textLength="81.39" lengthAdjust="spacingAndGlyphs" stroke="#111" stroke-width="0.75">Darbe (0.3)</text>
<line x1="378.5" y1="772.3" x2="390.8" y2="776.9" stroke="#111" stroke-width="1.3"/>
<text x="292.23" y="841.12" font-size="15.55" textLength="89.68" lengthAdjust="spacingAndGlyphs" stroke="#111" stroke-width="0.75">Darbe (0.03)</text>
<line x1="266.3" y1="818.8" x2="287.5" y2="832.5" stroke="#111" stroke-width="1.3"/>
<text x="252.24" y="871.33" font-size="15.7" textLength="44.19" lengthAdjust="spacingAndGlyphs" stroke="#111" stroke-width="0.75">Saline</text>
<line x1="227.5" y1="852.5" x2="247.5" y2="866.3" stroke="#111" stroke-width="1.3"/>
</svg>
</body></html>
